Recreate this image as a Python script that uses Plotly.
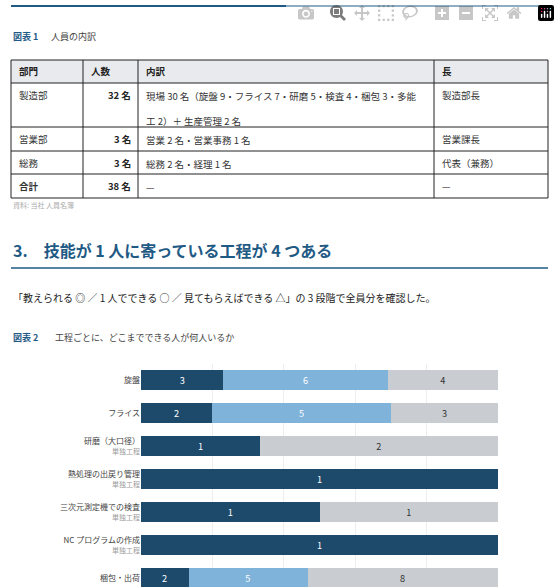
import plotly.graph_objects as go

W, H = 560, 587
FONT = "Noto Sans CJK JP"
BLUE = "#1f5a85"
DARK = "#1d4a6b"
LIGHT = "#7fb3d9"
GRAY = "#c9cdd2"

# chart data
processes = ["旋盤", "フライス", "研磨（大口径）", "熱処理の出戻り管理",
             "三次元測定機での検査", "NC プログラムの作成", "梱包・出荷"]
single_process = [False, False, True, True, True, True, False]
can_teach = [3, 2, 1, 1, 1, 1, 2]
can_alone = [6, 5, 0, 0, 0, 0, 5]
can_with_help = [4, 3, 2, 0, 1, 0, 8]

# table data
table_header = ["部門", "人数", "内訳", "長"]
table_rows = [
    ["製造部", "32 名", "現場 30 名（旋盤 9・フライス 7・研磨 5・検査 4・梱包 3・多能<br>工 2）＋ 生産管理 2 名", "製造部長"],
    ["営業部", "3 名", "営業 2 名・営業事務 1 名", "営業課長"],
    ["総務", "3 名", "総務 2 名・経理 1 名", "代表（兼務）"],
    ["合計", "38 名", "—", "—"],
]


def px_x(x):
    return x / W


def px_y(y):
    return 1 - y / H


fig = go.Figure()

series = [("教えられる", can_teach, DARK, "white"),
          ("一人でできる", can_alone, LIGHT, "white"),
          ("見てもらえばできる", can_with_help, GRAY, "#333")]
for name, vals, col, tcol in series:
    fig.add_trace(go.Bar(
        y=processes, x=vals, orientation="h", name=name,
        marker=dict(color=col, line=dict(width=0)),
        text=[str(v) if v else "" for v in vals],
        textposition="inside", insidetextanchor="middle", textangle=0,
        textfont=dict(color=tcol, size=10, family=FONT),
        width=0.6, hoverinfo="skip",
    ))

ticktext = [p + ("<br><span style='font-size:7px;color:#9a9a9a'>単独工程</span>" if s else "")
            for p, s in zip(processes, single_process)]

top = 363.5
fig.update_layout(
    width=W, height=H, margin=dict(l=0, r=0, t=0, b=0),
    paper_bgcolor="white", plot_bgcolor="white",
    barmode="stack", barnorm="percent", showlegend=False,
    font=dict(family=FONT, color="#333"),
    xaxis=dict(domain=[px_x(141), px_x(498)], range=[0, 100], showticklabels=False,
               showgrid=True, gridcolor="#eeeeee", dtick=20, zeroline=False),
    yaxis=dict(domain=[0, px_y(top)], range=[(H - top) / 33 - 0.5, -0.5],
               tickmode="array", tickvals=processes, ticktext=ticktext,
               tickfont=dict(size=8, color="#444"), ticklen=0, ticks="",
               showgrid=False, zeroline=False),
)

shapes = []
ann = []


def text(x, y, s, size=10, color="#333", anchor="left"):
    ann.append(dict(xref="paper", yref="paper", x=px_x(x), y=px_y(y), text=s,
                    showarrow=False, xanchor=anchor, yanchor="middle",
                    font=dict(size=size, color=color, family=FONT)))


def line(x0, y0, x1, y1, color="#222", width=1):
    shapes.append(dict(type="line", xref="paper", yref="paper",
                       x0=px_x(x0), y0=px_y(y0), x1=px_x(x1), y1=px_y(y1),
                       line=dict(color=color, width=width)))


# top rule
line(11, 6, 548, 6, BLUE, 2)

text(11, 37, "<b>図表 1</b>", 9, BLUE)
text(49, 37, "人員の内訳", 9, "#444")

# table
cols = [11, 83, 138, 434, 548]
rows = [60, 83, 127, 151, 174, 198]
shapes.append(dict(type="rect", xref="paper", yref="paper",
                   x0=px_x(11), x1=px_x(548), y0=px_y(60), y1=px_y(83),
                   fillcolor="#e8eaed", line=dict(width=0), layer="below"))
for y in rows:
    line(11, y, 548, y, "#222", 1)
for x in cols:
    line(x, 60, x, 198, "#222", 1)
for i, h in enumerate(table_header):
    text(cols[i] + 6, 71, "<b>" + h + "</b>", 9.5, "#222")
for r, row in enumerate(table_rows):
    y = rows[r + 1] + 12
    bold = r == 3
    text(cols[0] + 6, y, "<b>" + row[0] + "</b>" if bold else row[0], 9.5)
    text(cols[2] - 5, y, "<b>" + row[1] + "</b>", 9.5, "#222", "right")
    ann.append(dict(xref="paper", yref="paper", x=px_x(cols[2] + 6), y=px_y(rows[r + 1] + 4),
                    text=row[2], showarrow=False, xanchor="left", yanchor="top", align="left",
                    font=dict(size=9.5, color="#333", family=FONT)))
    if r == 0:
        ann[-1]["text"] = row[2].replace("<br>", "<br><span style='font-size:4px'> </span><br>")
    text(cols[3] + 6, y, row[3], 9.5)
text(11, 205, "資料: 当社 人員名簿", 7, "#aaa")

# heading
text(11, 250, "<b>3.　技能が 1 人に寄っている工程が 4 つある</b>", 16, BLUE)
line(11, 268, 548, 268, BLUE, 1.5)
text(11, 298, "「教えられる ◎ ／ 1 人でできる ○ ／ 見てもらえばできる △」の 3 段階で全員分を確認した。", 10, "#222")
text(11, 337, "<b>図表 2</b>", 9, BLUE)
text(53, 337, "工程ごとに、どこまでできる人が何人いるか", 9, "#444")

fig.update_layout(shapes=shapes, annotations=ann)
fig.write_html("out.html", post_script="document.body.style.margin='0';document.body.style.overflow='hidden';")
